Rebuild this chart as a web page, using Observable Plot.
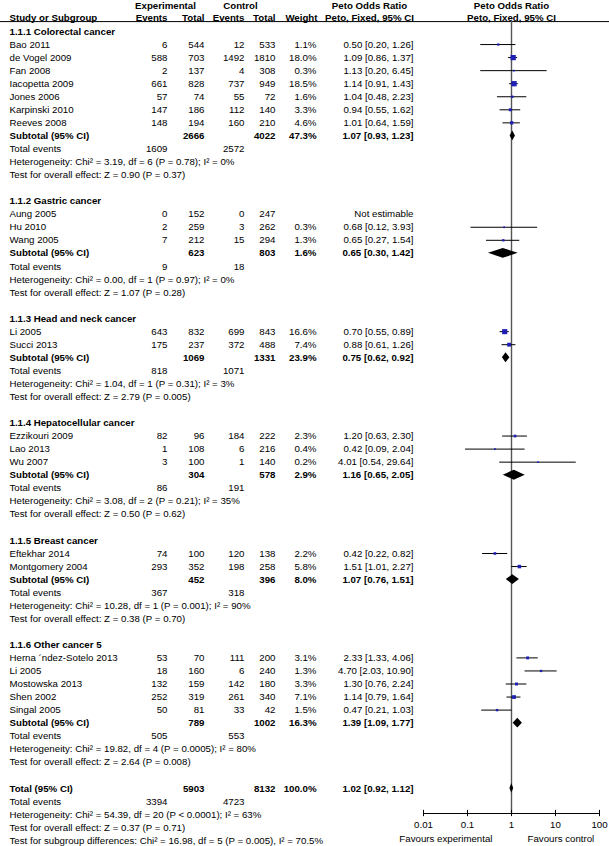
<!DOCTYPE html>
<html><head><meta charset="utf-8">
<script src="https://cdn.jsdelivr.net/npm/d3@7"></script>
<script src="https://cdn.jsdelivr.net/npm/@observablehq/plot@0.6"></script>
<style>
html,body{margin:0;padding:0;background:#fff;}
#chart svg{display:block}
</style></head><body><div id="chart"></div>
<script>
// ---------- data ----------
const subgroupTitles = ["1.1.1 Colorectal cancer","1.1.2 Gastric cancer","1.1.3 Head and neck cancer","1.1.4 Hepatocellular cancer","1.1.5 Breast cancer","1.1.6 Other cancer 5"];
const studyNames = ["Bao 2011","de Vogel 2009","Fan 2008","Iacopetta 2009","Jones 2006","Karpinski 2010","Reeves 2008",
  "Aung 2005","Hu 2010","Wang 2005",
  "Li 2005","Succi 2013",
  "Ezzikouri 2009","Lao 2013","Wu 2007",
  "Eftekhar 2014","Montgomery 2004",
  "Herna \u00b4ndez-Sotelo 2013","Li 2005","Mostowska 2013","Shen 2002","Singal 2005"];
const studyGroup = [0,0,0,0,0,0,0, 1,1,1, 2,2, 3,3,3, 4,4, 5,5,5,5,5];
const expEvents = [6,588,2,661,57,147,148, 0,2,7, 643,175, 82,1,3, 74,293, 53,18,132,252,50];
const expTotals = [544,703,137,828,74,186,194, 152,259,212, 832,237, 96,108,100, 100,352, 70,160,159,319,81];
const ctlEvents = [12,1492,4,737,55,112,160, 0,3,15, 699,372, 184,6,1, 120,198, 111,6,142,261,33];
const ctlTotals = [533,1810,308,949,72,140,210, 247,262,294, 843,488, 222,216,140, 138,258, 200,240,180,340,42];
const weights = [1.1,18.0,0.3,18.5,1.6,3.3,4.6, null,0.3,1.3, 16.6,7.4, 2.3,0.4,0.2, 2.2,5.8, 3.1,1.3,3.3,7.1,1.5];
const orEst  = [0.50,1.09,1.13,1.14,1.04,0.94,1.01, null,0.68,0.65, 0.70,0.88, 1.20,0.42,4.01, 0.42,1.51, 2.33,4.70,1.30,1.14,0.47];
const orLow  = [0.20,0.86,0.20,0.91,0.48,0.55,0.64, null,0.12,0.27, 0.55,0.61, 0.63,0.09,0.54, 0.22,1.01, 1.33,2.03,0.76,0.79,0.21];
const orHigh = [1.26,1.37,6.45,1.43,2.23,1.62,1.59, null,3.93,1.54, 0.89,1.26, 2.30,2.04,29.64, 0.82,2.27, 4.06,10.90,2.24,1.64,1.03];

const subExpTotals = [2666,623,1069,304,452,789];
const subCtlTotals = [4022,803,1331,578,396,1002];
const subExpEvents = [1609,9,818,86,367,505];
const subCtlEvents = [2572,18,1071,191,318,553];
const subWeights = [47.3,1.6,23.9,2.9,8.0,16.3];
const subEst  = [1.07,0.65,0.75,1.16,1.07,1.39];
const subLow  = [0.93,0.30,0.62,0.65,0.76,1.09];
const subHigh = [1.23,1.42,0.92,2.05,1.51,1.77];
const hetTexts = [
  "Heterogeneity: Chi\u00b2 = 3.19, df = 6 (P = 0.78); I\u00b2 = 0%",
  "Heterogeneity: Chi\u00b2 = 0.00, df = 1 (P = 0.97); I\u00b2 = 0%",
  "Heterogeneity: Chi\u00b2 = 1.04, df = 1 (P = 0.31); I\u00b2 = 3%",
  "Heterogeneity: Chi\u00b2 = 3.08, df = 2 (P = 0.21); I\u00b2 = 35%",
  "Heterogeneity: Chi\u00b2 = 10.28, df = 1 (P = 0.001); I\u00b2 = 90%",
  "Heterogeneity: Chi\u00b2 = 19.82, df = 4 (P = 0.0005); I\u00b2 = 80%"];
const testTexts = [
  "Test for overall effect: Z = 0.90 (P = 0.37)",
  "Test for overall effect: Z = 1.07 (P = 0.28)",
  "Test for overall effect: Z = 2.79 (P = 0.005)",
  "Test for overall effect: Z = 0.50 (P = 0.62)",
  "Test for overall effect: Z = 0.38 (P = 0.70)",
  "Test for overall effect: Z = 2.64 (P = 0.008)"];

const totalExp = 5903, totalCtl = 8132, totalWeight = 100.0;
const totalEst = 1.02, totalLow = 0.92, totalHigh = 1.12;
const totalExpEvents = 3394, totalCtlEvents = 4723;
const totalTexts = [
  "Heterogeneity: Chi\u00b2 = 54.39, df = 20 (P < 0.0001); I\u00b2 = 63%",
  "Test for overall effect: Z = 0.37 (P = 0.71)",
  "Test for subgroup differences: Chi\u00b2 = 16.98, df = 5 (P = 0.005), I\u00b2 = 70.5%"];

const tickValues = [0.01, 0.1, 1, 10, 100];
const tickLabels = ["0.01", "0.1", "1", "10", "100"];
const favourLabels = ["Favours experimental", "Favours control"];
const headerTop = ["Experimental", "Control", "Peto Odds Ratio", "Peto Odds Ratio"];
const headerBottom = ["Study or Subgroup", "Events", "Total", "Events", "Total", "Weight", "Peto, Fixed, 95% CI", "Peto, Fixed, 95% CI"];

// ---------- build table rows ----------
const fmtOR = (e, l, h) => `${e.toFixed(2)} [${l.toFixed(2)}, ${h.toFixed(2)}]`;
const rows = [], studyPts = [], diamondPts = [];
let r = 0;
const addDiamond = (row, e, l, h, g) => {
  const hh = 0.38;
  diamondPts.push({y: row - hh, x1: e, x2: e, g}, {y: row, x1: l, x2: h, g}, {y: row + hh, x1: e, x2: e, g});
};
subgroupTitles.forEach((title, g) => {
  rows.push({row: r++, name: title, bold: true});
  studyNames.forEach((n, i) => {
    if (studyGroup[i] !== g) return;
    const est = orEst[i] != null;
    rows.push({row: r, name: n, ee: String(expEvents[i]), et: String(expTotals[i]), ce: String(ctlEvents[i]), ct: String(ctlTotals[i]),
      w: est ? weights[i].toFixed(1) + "%" : "", or: est ? fmtOR(orEst[i], orLow[i], orHigh[i]) : "Not estimable", bold: false});
    if (est) studyPts.push({row: r, est: orEst[i], lo: orLow[i], hi: orHigh[i], w: weights[i]});
    r++;
  });
  rows.push({row: r, name: "Subtotal (95% CI)", et: String(subExpTotals[g]), ct: String(subCtlTotals[g]), w: subWeights[g].toFixed(1) + "%",
    or: fmtOR(subEst[g], subLow[g], subHigh[g]), bold: true});
  addDiamond(r, subEst[g], subLow[g], subHigh[g], g);
  r++;
  rows.push({row: r++, name: "Total events", ee: String(subExpEvents[g]), ce: String(subCtlEvents[g]), bold: false});
  rows.push({row: r++, name: hetTexts[g], bold: false});
  rows.push({row: r++, name: testTexts[g], bold: false});
  r++;
});
rows.push({row: r, name: "Total (95% CI)", et: String(totalExp), ct: String(totalCtl), w: totalWeight.toFixed(1) + "%", or: fmtOR(totalEst, totalLow, totalHigh), bold: true});
addDiamond(r, totalEst, totalLow, totalHigh, 99);
r++;
rows.push({row: r++, name: "Total events", ee: String(totalExpEvents), ce: String(totalCtlEvents), bold: false});
totalTexts.forEach(t => rows.push({row: r++, name: t, bold: false}));

// ---------- layout ----------
const ROW0 = 31, ROWH = 13.05;
const headerRule = -0.76, axisRow = (813 - ROW0) / ROWH;
const font = "'Liberation Sans', Arial, Helvetica, sans-serif";
const FS = 9.7;
const cols = [["name", 9, "start"], ["ee", 167, "end"], ["et", 204, "end"], ["ce", 244, "end"], ["ct", 275, "end"], ["w", 316, "end"], ["or", 413, "end"]];
const topPos = [[165, "middle"], [240, "middle"], [369, "middle"], [null, "middle"]];
const botPos = [[9, "start"], [167, "end"], [204, "end"], [244, "end"], [275, "end"], [317, "end"], [369, "middle"], [null, "middle"]];

const marks = [];
// column texts
cols.forEach(([key, dx, anchor]) => {
  [false, true].forEach(b => {
    marks.push(Plot.text(rows.filter(d => d[key] != null && d[key] !== "" && d.bold === b), {
      y: "row", text: key, frameAnchor: "left", dx, textAnchor: anchor, fontWeight: b ? "bold" : "normal", fontSize: FS, fill: "black"}));
  });
});
// headers
const headerMark = (labels, pos, row) => labels.forEach((t, i) => {
  const [dx, anchor] = pos[i];
  if (dx == null) marks.push(Plot.text([t], {x: () => 1, y: () => row, text: d => d, textAnchor: anchor, fontWeight: "bold", fontSize: FS}));
  else marks.push(Plot.text([t], {y: () => row, text: d => d, frameAnchor: "left", dx, textAnchor: anchor, fontWeight: "bold", fontSize: FS}));
});
headerMark(headerTop, topPos, -1.98);
headerMark(headerBottom, botPos, -1.02);
marks.push(Plot.ruleY([headerRule], {stroke: "black", strokeWidth: 1}));

// forest plot
marks.push(Plot.ruleX([1], {y1: headerRule, y2: axisRow, stroke: "#555", strokeWidth: 1.4}));
marks.push(Plot.ruleY(studyPts, {y: "row", x1: "lo", x2: "hi", stroke: "black", strokeWidth: 1}));
marks.push(Plot.dot(studyPts, {x: "est", y: "row", r: "w", symbol: "square", fill: "#1f1fb4", stroke: "none"}));
marks.push(Plot.areaX(diamondPts, {y: "y", x1: "x1", x2: "x2", z: "g", fill: "black", curve: "linear"}));

// axis
marks.push(Plot.ruleY([axisRow], {x1: tickValues[0], x2: tickValues[tickValues.length - 1], stroke: "black", strokeWidth: 1}));
marks.push(Plot.ruleX(tickValues, {x: d => d, y1: axisRow - 0.24, y2: axisRow + 0.24, stroke: "black", strokeWidth: 1}));
marks.push(Plot.text(tickValues, {x: d => d, y: () => axisRow, text: (d, i) => tickLabels[i], dy: 11, fontSize: FS}));
marks.push(Plot.text([favourLabels[0]], {x: () => 1, y: () => axisRow, text: d => d, dy: 25, dx: -19, textAnchor: "end", fontSize: FS}));
marks.push(Plot.text([favourLabels[1]], {x: () => 1, y: () => axisRow, text: d => d, dy: 25, dx: 16, textAnchor: "start", fontSize: FS}));

const chart = Plot.plot({
  width: 609, height: 846,
  marginLeft: 0, marginRight: 0, marginTop: 0, marginBottom: 0,
  style: {fontFamily: font, fontSize: FS + "px", background: "white", color: "black"},
  x: {type: "log", domain: [0.01, 100], range: [423, 599], axis: null},
  y: {domain: [0, 62], range: [ROW0, ROW0 + 62 * ROWH], axis: null},
  r: {type: "sqrt", domain: [0, 18.5], range: [0.7, 3.0]},
  marks
});
document.getElementById("chart").appendChild(chart);
</script></body></html>
